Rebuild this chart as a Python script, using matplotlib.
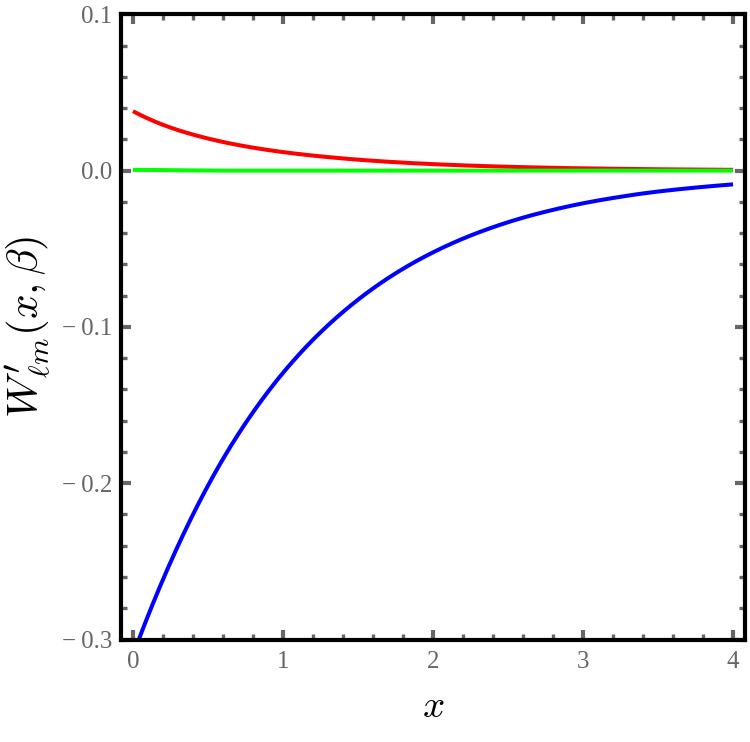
import numpy as np
import matplotlib
matplotlib.use("Agg")
import matplotlib.pyplot as plt
from matplotlib.ticker import MultipleLocator, FuncFormatter

# values (every 0.2 in x)
x_pts = [0.0, 0.2, 0.4, 0.6, 0.8, 1.0, 1.2, 1.4, 1.6, 1.8, 2.0,
         2.2, 2.4, 2.6, 2.8, 3.0, 3.2, 3.4, 3.6, 3.8, 4.0]
w_blue = [-0.3100, -0.2616, -0.2200, -0.1845, -0.1546, -0.1294, -0.1082,
          -0.0904, -0.0754, -0.0628, -0.0523, -0.0435, -0.0362, -0.0301,
          -0.0251, -0.0209, -0.0175, -0.0146, -0.0123, -0.0104, -0.0088]
w_red = [0.03801, 0.02930, 0.02305, 0.01832, 0.01470, 0.01186, 0.00961,
         0.00779, 0.00631, 0.00512, 0.00415, 0.00336, 0.00273, 0.00221,
         0.00179, 0.00145, 0.00118, 0.00095, 0.00077, 0.00063, 0.00051]
w_green = [0.0005, 0.0003, 0.0001, 0.0, 0.0, 0.0, 0.0, 0.0, 0.0, 0.0, 0.0,
           0.0, 0.0, 0.0, 0.0, 0.0, 0.0, 0.0, 0.0, 0.0, 0.0]

plt.rcParams["mathtext.fontset"] = "cm"
plt.rcParams["font.family"] = ["Liberation Serif", "DejaVu Serif"]


def spline(xs, ys, n=400):
    # natural cubic spline through the read points, only for a smooth stroke
    xs = np.asarray(xs, float); ys = np.asarray(ys, float)
    k = len(xs); h = np.diff(xs)
    A = np.zeros((k, k)); r = np.zeros(k)
    A[0, 0] = A[-1, -1] = 1.0
    for i in range(1, k - 1):
        A[i, i - 1] = h[i - 1]
        A[i, i] = 2 * (h[i - 1] + h[i])
        A[i, i + 1] = h[i]
        r[i] = 6 * ((ys[i + 1] - ys[i]) / h[i] - (ys[i] - ys[i - 1]) / h[i - 1])
    M = np.linalg.solve(A, r)
    xf = np.linspace(xs[0], xs[-1], n)
    j = np.clip(np.searchsorted(xs, xf) - 1, 0, k - 2)
    a = xs[j + 1] - xf; b = xf - xs[j]; hj = h[j]
    yf = (M[j] * a**3 / (6 * hj) + M[j + 1] * b**3 / (6 * hj)
          + (ys[j] / hj - M[j] * hj / 6) * a + (ys[j + 1] / hj - M[j + 1] * hj / 6) * b)
    return xf, yf


def log_spline(xs, ys):
    # decaying curves: spline the log of the magnitude, keep the sign
    ys = np.asarray(ys, float)
    sgn = np.sign(ys[0])
    xf, lf = spline(xs, np.log(np.abs(ys)))
    return xf, sgn * np.exp(lf)


fig = plt.figure(figsize=(7.5, 7.42), dpi=100)
ax = fig.add_axes([0.1607, 0.1381, 0.8327, 0.8426])

xf, yf = log_spline(x_pts, w_blue)
ax.plot(xf, yf, color="#0000ff", lw=2.9, solid_capstyle="butt")
xf, yf = log_spline(x_pts, w_red)
ax.plot(xf, yf, color="#ff0000", lw=2.9, solid_capstyle="butt")
xf, yf = spline(x_pts, w_green)
ax.plot(xf, yf, color="#00ff00", lw=2.9, solid_capstyle="butt")

ax.set_xlim(-0.083, 4.08)
ax.set_ylim(-0.3, 0.1)

ax.xaxis.set_major_locator(MultipleLocator(1))
ax.xaxis.set_minor_locator(MultipleLocator(0.2))
ax.yaxis.set_major_locator(MultipleLocator(0.1))
ax.yaxis.set_minor_locator(MultipleLocator(0.02))


def yfmt(v, pos):
    s = f"{abs(v):.1f}"
    return ("\u2212\u2009" + s) if v < -1e-9 else s


ax.yaxis.set_major_formatter(FuncFormatter(yfmt))
ax.xaxis.set_major_formatter(FuncFormatter(lambda v, p: f"{v:.0f}"))

ax.tick_params(which="both", direction="in", top=True, right=True,
               color="#666666", labelcolor="#666666", labelsize=18)
ax.tick_params(which="major", length=7.5, width=3.0)
ax.tick_params(which="minor", length=4.5, width=2.4)
ax.tick_params(axis="x", pad=8)
ax.tick_params(axis="y", pad=6)

for sp in ax.spines.values():
    sp.set_linewidth(3.0)
    sp.set_color("black")

ax.set_xlabel(r"$x$", fontsize=28, labelpad=12)
ax.set_ylabel(r"$W^{\prime}_{\ell m}(x,\beta)$", fontsize=31, labelpad=6)

plt.savefig("out.png", dpi=100)
